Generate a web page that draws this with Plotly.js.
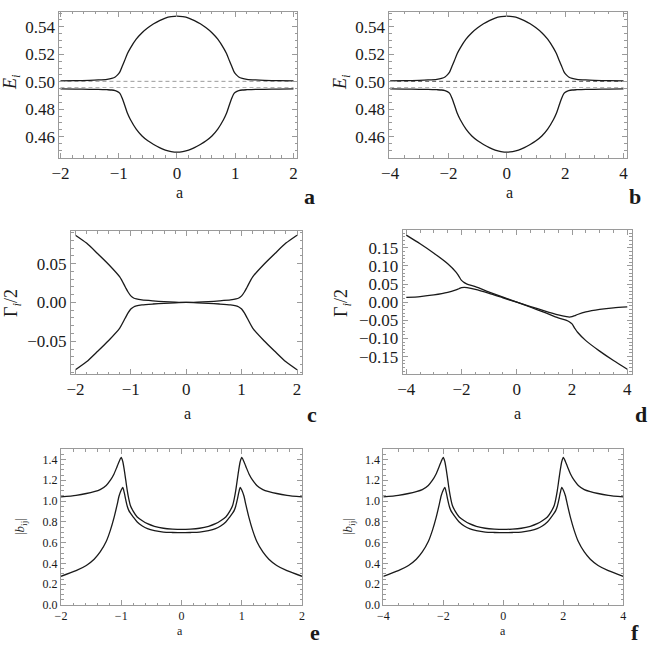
<!DOCTYPE html>
<html>
<head>
<meta charset="utf-8">
<script src="https://cdn.plot.ly/plotly-3.0.1.min.js"></script>
<style>
html, body { margin: 0; padding: 0; background: #fff; }
#chart { width: 654px; height: 654px; }
</style>
</head>
<body>
<div id="chart"></div>
<script>
// ---- data ----
// panel a / b : energies E_i
const aX = [-2,-1.75,-1.5,-1.35,-1.2,-1.12,-1.06,-1.02,-0.98,-0.94,-0.9,-0.85,-0.8,-0.7,-0.6,-0.5,-0.4,-0.3,-0.2,-0.1,0,
            0.1,0.2,0.3,0.4,0.5,0.6,0.7,0.8,0.85,0.9,0.94,0.98,1.02,1.06,1.12,1.2,1.35,1.5,1.75,2];
const bX = [-4,-3.5,-3,-2.7,-2.4,-2.24,-2.12,-2.04,-1.96,-1.88,-1.8,-1.7,-1.6,-1.4,-1.2,-1,-0.8,-0.6,-0.4,-0.2,0,
            0.2,0.4,0.6,0.8,1,1.2,1.4,1.6,1.7,1.8,1.88,1.96,2.04,2.12,2.24,2.4,2.7,3,3.5,4];
const eUpperE = [0.5006,0.5008,0.5010,0.5013,0.5018,0.5025,0.5035,0.5050,0.5072,0.5113,0.5153,0.5205,0.5245,0.5310,0.5357,0.5393,0.5422,0.5445,0.5464,0.5474,0.5478,
                 0.5474,0.5464,0.5445,0.5422,0.5393,0.5357,0.5310,0.5245,0.5205,0.5153,0.5113,0.5072,0.5050,0.5035,0.5025,0.5018,0.5013,0.5010,0.5008,0.5006];
const eLowerE = [0.4948,0.4947,0.4945,0.4944,0.4942,0.4940,0.4935,0.4928,0.4915,0.4880,0.4832,0.4770,0.4725,0.4655,0.4605,0.4570,0.4543,0.4520,0.4502,0.4492,0.4488,
                 0.4492,0.4502,0.4520,0.4543,0.4570,0.4605,0.4655,0.4725,0.4770,0.4832,0.4880,0.4915,0.4928,0.4935,0.4940,0.4942,0.4944,0.4945,0.4947,0.4948];
const dashLevels = [0.5003, 0.4958];

// panel c : widths, small range
const cX = [-2,-1.8,-1.6,-1.4,-1.2,-1.1,-1.05,-1,-0.95,-0.9,-0.8,-0.6,-0.4,-0.2,0,
            0.2,0.4,0.6,0.8,0.9,0.95,1,1.05,1.1,1.2,1.4,1.6,1.8,2];
const cUpper = [0.0867,0.0765,0.0630,0.0490,0.0330,0.0200,0.0135,0.0085,0.0058,0.0045,0.0032,0.0020,0.0011,0.0004,0,
                0.0004,0.0011,0.0020,0.0032,0.0045,0.0058,0.0085,0.0135,0.0200,0.0330,0.0490,0.0630,0.0765,0.0867];
const cLower = [-0.0867,-0.0765,-0.0630,-0.0490,-0.0330,-0.0200,-0.0135,-0.0085,-0.0058,-0.0045,-0.0032,-0.0020,-0.0011,-0.0004,0,
                -0.0004,-0.0011,-0.0020,-0.0032,-0.0045,-0.0058,-0.0085,-0.0135,-0.0200,-0.0330,-0.0490,-0.0630,-0.0765,-0.0867];

// panel d : widths, large range
const dX = [-4,-3.5,-3,-2.5,-2.2,-2.1,-2,-1.9,-1.8,-1.5,-1,-0.5,0,0.5,1,1.5,1.8,1.9,2,2.1,2.2,2.5,3,3.5,4];
const dSteep = [0.185,0.161,0.135,0.106,0.083,0.072,0.060,0.054,0.050,0.043,0.028,0.014,0,
                -0.014,-0.028,-0.043,-0.050,-0.054,-0.060,-0.072,-0.083,-0.106,-0.135,-0.161,-0.185];
const dFlat = [0.013,0.0155,0.020,0.027,0.034,0.037,0.040,0.041,0.040,0.035,0.024,0.012,0,
               -0.012,-0.024,-0.035,-0.040,-0.041,-0.040,-0.037,-0.034,-0.027,-0.020,-0.0155,-0.013];

// panel e / f : |b_ij|
const eX = [-2,-1.75,-1.58,-1.45,-1.35,-1.25,-1.18,-1.12,-1.07,-1.035,-1,-0.975,-0.95,-0.925,-0.9,-0.875,-0.85,-0.8,-0.735,-0.65,-0.565,-0.45,-0.3,-0.15,0,
            0.15,0.3,0.45,0.565,0.65,0.735,0.8,0.85,0.875,0.9,0.925,0.95,0.975,1,1.035,1.07,1.12,1.18,1.25,1.35,1.45,1.58,1.75,2];
const fX = [-4,-3.5,-3.16,-2.9,-2.7,-2.5,-2.36,-2.24,-2.14,-2.07,-2,-1.95,-1.9,-1.85,-1.8,-1.75,-1.7,-1.6,-1.47,-1.3,-1.13,-0.9,-0.6,-0.3,0,
            0.3,0.6,0.9,1.13,1.3,1.47,1.6,1.7,1.75,1.8,1.85,1.9,1.95,2,2.07,2.14,2.24,2.36,2.5,2.7,2.9,3.16,3.5,4];
const bUpper = [1.039,1.055,1.072,1.09,1.11,1.15,1.20,1.26,1.33,1.38,1.419,1.38,1.30,1.20,1.10,1.02,0.96,0.90,0.846,0.81,0.782,0.757,0.738,0.730,0.727,
                0.730,0.738,0.757,0.782,0.81,0.846,0.90,0.96,1.02,1.10,1.20,1.30,1.38,1.419,1.38,1.33,1.26,1.20,1.15,1.11,1.09,1.072,1.055,1.039];
const bLower = [0.276,0.33,0.38,0.44,0.51,0.61,0.72,0.84,0.96,1.05,1.105,1.13,1.08,1.01,0.95,0.91,0.885,0.845,0.798,0.76,0.734,0.715,0.701,0.697,0.695,
                0.697,0.701,0.715,0.734,0.76,0.798,0.845,0.885,0.91,0.95,1.01,1.08,1.13,1.105,1.05,0.96,0.84,0.72,0.61,0.51,0.44,0.38,0.33,0.276];

// ---- layout helpers ----
const W = 654, H = 654;
const SERIF = 'Liberation Serif';
const FRAME = '#9a9a9a';
const INK = '#1a1a1a';

function px(v){ return v / W; }
function py(v){ return 1 - v / H; }

// box = [left, top, right, bottom] in pixels
const panels = [
  {box:[59.3,11.7,297,157.7],  xr:[-2.02,2.06], yr:[0.4447,0.551], xd:1, xm:0.2, yd:0.02, ym:0.005, yf:'.2f', fs:17},
  {box:[389.3,11.7,626.7,157.7], xr:[-4.03,4.11], yr:[0.4447,0.551], xd:2, xm:0.5, yd:0.02, ym:0.005, yf:'.2f', fs:17},
  {box:[71,231,302,374],     xr:[-2.08,2.09], yr:[-0.0922,0.0921], xd:1, xm:0.2, yd:0.05, ym:0.01, yf:'.2f', fs:17},
  {box:[402.7,230,631.7,374], xr:[-4.13,4.16], yr:[-0.198,0.199], xd:2, xm:0.5, yd:0.05, ym:0.01, yf:'.2f', fs:17},
  {box:[61,449,302,605],     xr:[-2,2], yr:[0,1.5], xd:1, xm:0.2, yd:0.2, ym:0.05, yf:'.1f', fs:12},
  {box:[383.3,449,623.3,605], xr:[-4,4], yr:[0,1.5], xd:2, xm:0.5, yd:0.2, ym:0.05, yf:'.1f', fs:12}
];

const layout = {
  width: W, height: H,
  margin: {l:0, r:0, t:0, b:0},
  paper_bgcolor: '#fff', plot_bgcolor: '#fff',
  showlegend: false,
  annotations: []
};

function axisBase(range, dtick, minorDtick, fs){
  return {
    range: range, dtick: dtick, tick0: 0,
    showgrid: false, zeroline: false,
    showline: true, linecolor: FRAME, linewidth: 1, mirror: 'ticks',
    ticks: 'inside', ticklen: 5, tickcolor: FRAME, tickwidth: 1,
    minor: {dtick: minorDtick, ticks: 'inside', ticklen: 2.5, tickcolor: FRAME, showgrid: false},
    tickfont: {family: SERIF, size: fs, color: INK},
    fixedrange: true
  };
}

panels.forEach(function(p, i){
  const n = i === 0 ? '' : String(i + 1);
  const xa = axisBase(p.xr, p.xd, p.xm, p.fs);
  xa.domain = [px(p.box[0]), px(p.box[2])];
  xa.anchor = 'y' + n;
  const ya = axisBase(p.yr, p.yd, p.ym, p.fs);
  ya.domain = [py(p.box[3]), py(p.box[1])];
  ya.anchor = 'x' + n;
  ya.tickformat = p.yf;
  layout['xaxis' + n] = xa;
  layout['yaxis' + n] = ya;
});

// ---- traces ----
const traces = [];
function curve(x, y, n, color, dash, width){
  traces.push({
    x: x, y: y, xaxis: 'x' + n, yaxis: 'y' + n,
    type: 'scatter', mode: 'lines',
    line: {color: color || INK, width: width || 1.3, dash: dash || 'solid', shape: 'spline', smoothing: 0.7},
    hoverinfo: 'skip'
  });
}

// dashed reference levels (a, b)
curve([aX[0], aX[aX.length-1]], [dashLevels[0], dashLevels[0]], '', '#9a9a9a', '4px,3px', 1);
curve([aX[0], aX[aX.length-1]], [dashLevels[1], dashLevels[1]], '', '#b0b0b0', '4px,3px', 1);
curve([bX[0], bX[bX.length-1]], [dashLevels[0], dashLevels[0]], '2', '#555', '4px,3px', 1);
curve([bX[0], bX[bX.length-1]], [dashLevels[1], dashLevels[1]], '2', '#b0b0b0', '4px,3px', 1);

curve(aX, eUpperE, '');
curve(aX, eLowerE, '');
curve(bX, eUpperE, '2');
curve(bX, eLowerE, '2');
curve(cX, cUpper, '3');
curve(cX, cLower, '3');
curve(dX, dSteep, '4');
curve(dX, dFlat, '4');
curve(eX, bUpper, '5');
curve(eX, bLower, '5');
curve(fX, bUpper, '6');
curve(fX, bLower, '6');

// ---- text ----
function label(text, x, y, size, opts){
  const a = Object.assign({
    text: text, xref: 'paper', yref: 'paper',
    x: px(x), y: py(y), xanchor: 'center', yanchor: 'middle',
    showarrow: false,
    font: {family: SERIF, size: size, color: INK}
  }, opts || {});
  layout.annotations.push(a);
}

// y axis titles
label('<i>E</i><sub><i>i</i></sub>', 12, 82, 18, {textangle: -90});
label('<i>E</i><sub><i>i</i></sub>', 342, 82, 18, {textangle: -90});
label('Γ<sub><i>i</i></sub>/2', 12, 303, 18, {textangle: -90});
label('Γ<sub><i>i</i></sub>/2', 342, 303, 18, {textangle: -90});
label('|<i>b</i><sub>ij</sub>|', 20, 527, 13, {textangle: -90});
label('|<i>b</i><sub>ij</sub>|', 348, 527, 13, {textangle: -90});

// x axis titles
label('a', 179, 193, 16);
label('a', 509, 193, 16);
label('a', 187, 413, 16);
label('a', 517, 413, 16);
label('a', 180, 631, 12);
label('a', 503, 631, 12);

// panel letters
const letters = ['a', 'b', 'c', 'd', 'e', 'f'];
const letterPos = [[309,196],[635,196],[312,414],[641,414],[315,632],[635,632]];
letters.forEach(function(t, i){
  label('<b>' + t + '</b>', letterPos[i][0], letterPos[i][1], 22);
});

Plotly.newPlot('chart', traces, layout, {staticPlot: true, displayModeBar: false});
</script>
</body>
</html>
